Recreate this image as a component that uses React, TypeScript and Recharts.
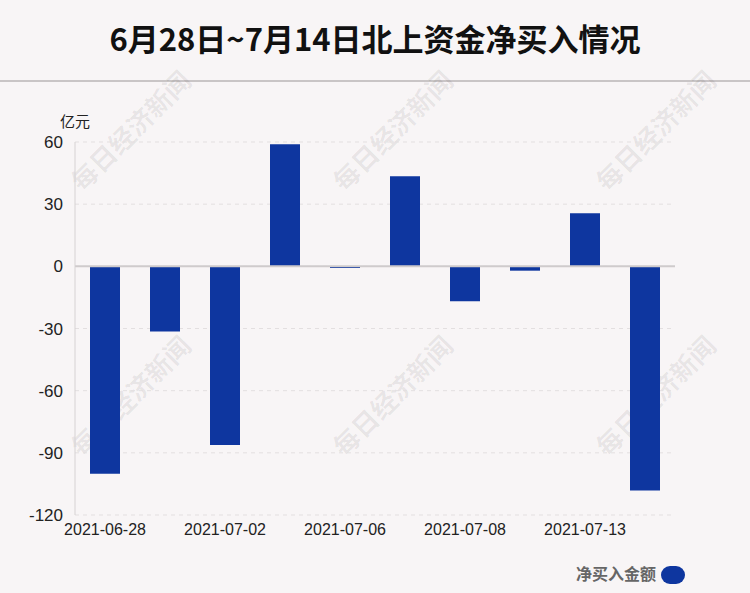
import React from 'react';
import {
  BarChart,
  Bar,
  XAxis,
  YAxis,
  CartesianGrid,
  ReferenceLine
} from 'recharts';

const dates = [
  '2021-06-28',
  '2021-06-29',
  '2021-07-02',
  '2021-07-05',
  '2021-07-06',
  '2021-07-07',
  '2021-07-08',
  '2021-07-09',
  '2021-07-13',
  '2021-07-14'
];
const netBuy = [-100.1, -31.4, -86.2, 58.9, -0.8, 43.5, -16.9, -2.1, 25.6, -108.2];
const yTicks = [-120, -90, -60, -30, 0, 30, 60];

const data = dates.map((d, i) => ({ date: d, value: netBuy[i] }));

const BAR_COLOR = '#0e369f';
const BG = '#f8f5f6';

const watermarks = [
  [130, 130],
  [392, 130],
  [655, 130],
  [130, 395],
  [392, 395],
  [655, 395]
];

export default function App() {
  return (
    <div
      style={{
        position: 'absolute',
        left: 0,
        top: 0,
        width: 750,
        height: 593,
        background: BG,
        overflow: 'hidden',
        fontFamily: '"Liberation Sans", Arial, sans-serif'
      }}
    >
      <div
        style={{
          position: 'absolute',
          top: 18,
          left: 0,
          width: 750,
          textAlign: 'center',
          fontSize: 31,
          fontWeight: 'bold',
          color: '#111',
          fontFamily: '"Noto Sans CJK SC", "Liberation Sans", sans-serif',
          lineHeight: '40px'
        }}
      >
        6月28日~7月14日北上资金净买入情况
      </div>
      <div
        style={{
          position: 'absolute',
          top: 80,
          left: 0,
          width: 750,
          height: 2,
          background: '#c9c5c6'
        }}
      />
      {watermarks.map(([x, y], i) => (
        <div
          key={i}
          style={{
            position: 'absolute',
            left: x - 90,
            top: y - 16,
            width: 180,
            height: 32,
            textAlign: 'center',
            fontSize: 26,
            fontWeight: 'bold',
            color: 'rgba(0,0,0,0.07)',
            fontFamily: '"Noto Sans CJK SC", serif',
            transform: 'rotate(-45deg)',
            lineHeight: '32px'
          }}
        >
          每日经济新闻
        </div>
      ))}
      <div
        style={{
          position: 'absolute',
          left: 60,
          top: 110,
          fontSize: 15,
          color: '#222',
          fontFamily: '"Noto Sans CJK SC", sans-serif'
        }}
      >
        亿元
      </div>
      <div style={{ position: 'absolute', left: 0, top: 0 }}>
        <BarChart
          width={750}
          height={593}
          data={data}
          margin={{ top: 142, right: 75, left: 15, bottom: 0 }}
        >
          <CartesianGrid
            vertical={false}
            strokeDasharray="4 4"
            stroke="#e3dfe0"
          />
          <XAxis
            dataKey="date"
            interval={1}
            axisLine={false}
            tickLine={false}
            tickSize={0}
            tickMargin={9}
            height={78}
            tick={{ fill: '#222', fontSize: 16 }}
          />
          <YAxis
            width={60}
            domain={[-120, 60]}
            ticks={yTicks}
            interval={0}
            axisLine={{ stroke: '#d6d2d3' }}
            tickLine={false}
            tickSize={0}
            tickMargin={12}
            tick={{ fill: '#222', fontSize: 17 }}
          />
          <ReferenceLine y={0} stroke="#cfcbcc" strokeWidth={2} />
          <Bar
            dataKey="value"
            fill={BAR_COLOR}
            barSize={30}
            isAnimationActive={false}
          />
        </BarChart>
      </div>
      <div
        style={{
          position: 'absolute',
          left: 576,
          top: 563,
          fontSize: 16,
          fontWeight: 'bold',
          color: '#666',
          fontFamily: '"Noto Sans CJK SC", sans-serif',
          lineHeight: '20px'
        }}
      >
        净买入金额
      </div>
      <div
        style={{
          position: 'absolute',
          left: 661,
          top: 566,
          width: 24,
          height: 18,
          borderRadius: 9,
          background: BAR_COLOR
        }}
      />
    </div>
  );
}
